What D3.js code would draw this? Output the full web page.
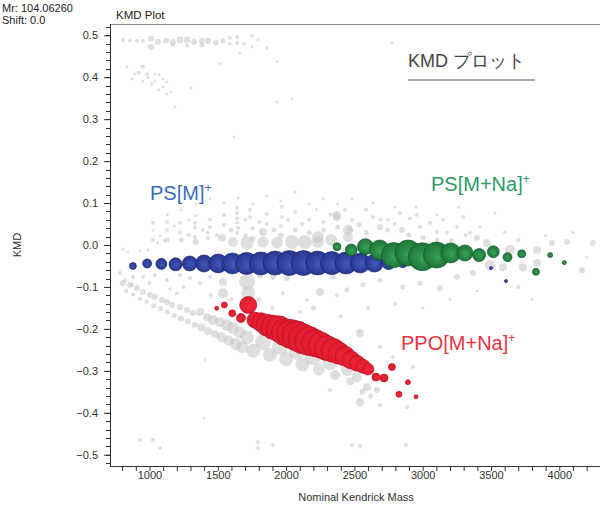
<!DOCTYPE html>
<html>
<head>
<meta charset="utf-8">
<script src="https://cdn.jsdelivr.net/npm/d3@7"></script>
<style>
  body { margin: 0; background: #fff; }
  svg { display: block; }
  text { font-family: "Liberation Sans", Arial, Helvetica, sans-serif; }
</style>
</head>
<body>
<svg id="chart" width="600" height="506"></svg>
<script>
// ---- data: [nominal Kendrick mass, KMD, relative intensity] ----
const psM = [
  [879,-0.050,7],[983,-0.044,12],[1087,-0.045,18],[1191,-0.046,25],[1295,-0.044,33],
  [1399,-0.044,43],[1503,-0.044,53],[1607,-0.044,65],[1711,-0.044,72],[1815,-0.044,78],
  [1919,-0.043,85],[2023,-0.043,92],[2127,-0.043,92],[2231,-0.043,85],[2335,-0.043,78],
  [2439,-0.043,72],[2543,-0.043,59],[2647,-0.043,48],[2751,-0.042,29],[2855,-0.042,15],
  [3500,-0.055,1.5],[3610,-0.086,1.5]
];
const psMNa = [
  [2373,-0.004,9.4],[2477,-0.012,21],[2581,-0.004,38],[2685,-0.012,59],[2789,-0.024,92],
  [2893,-0.019,100],[2997,-0.028,116],[3101,-0.024,100],[3205,-0.019,59],[3309,-0.019,38],
  [3413,-0.024,25],[3517,-0.016,21],[3621,-0.029,12],[3725,-0.021,9.4],[3829,-0.064,7.2],
  [3933,-0.024,3.7],[4037,-0.042,2.4]
];
const ppoMNa = [
  [1492,-0.151,2.4],[1548,-0.143,5.3],[1606,-0.163,7.2],[1670,-0.174,12],[1723,-0.143,43],
  [1772,-0.179,38],[1816,-0.184,53],[1860,-0.191,71],[1904,-0.196,85],[1948,-0.200,100],
  [1992,-0.208,108],[2036,-0.212,124],[2080,-0.217,133],[2124,-0.224,133],[2168,-0.229,124],
  [2211,-0.234,108],[2255,-0.239,100],[2299,-0.246,92],[2343,-0.251,85],[2387,-0.258,71],
  [2431,-0.265,59],[2475,-0.274,48],[2519,-0.282,38],[2563,-0.289,29],[2599,-0.296,21],
  [2658,-0.315,9.4],[2717,-0.317,9.4],[2775,-0.291,7.2],[2826,-0.356,5.3],[2892,-0.327,3.7],
  [2951,-0.362,2.4]
];
// unassigned peaks, by region of the plot
const othersTop = [
  [806,0.489,2.4],[857,0.487,2.4],[908,0.487,2.4],[952,0.487,2.4],[1011,0.492,5.3],[1011,0.473,5.3],
  [1062,0.484,5.3],[1121,0.487,5.3],[1172,0.484,5.3],[1172,0.477,2.4],[1223,0.489,7],[1275,0.489,7],
  [1275,0.475,2.4],[1326,0.484,5.3],[1384,0.487,5.3],[1384,0.477,3.7],[1428,0.487,5.3],[1487,0.482,5.3],
  [1538,0.487,3.7],[1589,0.494,2.4],[1589,0.480,2.4],[1641,0.496,2.4],[1641,0.482,2.4],[1692,0.480,2.4],
  [1750,0.499,2.4],[1750,0.473,1.3],[1794,0.489,1.3],[1860,0.470,1.3],[1662,0.458,1.3],[1516,0.432,1.3],
  [1933,0.437,1.3],[2775,0.482,1.3],
  [835,0.425,1.3],[952,0.425,2.4],[894,0.408,1.3],[923,0.411,2.4],[982,0.408,2.4],[1040,0.408,1.3],
  [1070,0.406,1.3],[872,0.396,1.3],[952,0.391,1.3],[989,0.399,1.3],[1040,0.391,1.3],[1099,0.396,1.3],
  [1128,0.389,1.3],[1018,0.384,1.3],[1099,0.377,1.3],[1070,0.370,1.3],[1128,0.360,1.3],[1157,0.365,1.3],
  [1187,0.329,1.3],[1304,0.375,1],[1933,0.341,1.3],[2043,0.348,1.3],[1619,0.258,1]
];
const othersBand = [
  [1026,0.053,2.4],[1128,0.055,2.4],[1128,0.036,2.4],[1223,0.053,2.4],[1223,0.029,2.4],[1333,0.053,2.4],
  [1333,0.041,2.4],[1333,0.019,2.4],[1428,0.029,2.4],[1428,0.017,2.4],[1531,0.017,9.4],[1641,0.088,2.4],
  [1641,0.076,2.4],[1641,0.064,2.4],[1641,0.053,2.4],[1641,0.029,2.4],[1611,0.007,15],[1736,0.084,2.4],
  [1736,0.067,2.4],[1831,0.031,9.4],[1831,0.007,18],[1933,0.005,21],[1970,0.091,2.4],[1970,0.067,2.4],
  [2043,0.007,29],[2138,0.007,29],[2233,0.019,21],[2233,0.007,21],[2372,0.067,9.4],[2453,0.036,15],
  [2453,0.019,15],[806,-0.010,1.3],[843,-0.017,1.3],[930,-0.014,1.3],[990,-0.012,1.3],[1060,0.005,1.3],
  [1110,0.010,1.3],[1714,0.005,25],[2330,0.012,21],
  [1026,0.034,1.3],[1026,0.012,2.4],[1078,0.022,1.3],[1130,0.072,1.3],[1130,0.012,3.7],[1182,0.045,1.3],
  [1234,0.084,1.3],[1234,0.012,3.7],[1286,0.060,1.3],[1286,0.024,2.4],[1338,0.098,1.3],[1338,0.070,1.3],
  [1338,0.008,5.3],[1390,0.036,2.4],[1442,0.110,1.3],[1442,0.060,2.4],[1442,0.043,2.4],[1494,0.024,2.4],
  [1546,0.100,1.3],[1546,0.072,2.4],[1546,0.048,2.4],[1598,0.036,3.7],[1650,0.112,1.3],[1650,0.041,2.4],
  [1702,0.060,2.4],[1702,0.022,3.7],[1754,0.098,1.3],[1754,0.040,2.4],[1754,0.015,5.3],[1806,0.055,2.4],
  [1858,0.116,1.3],[1858,0.074,2.4],[1858,0.050,2.4],[1910,0.036,3.7],[1962,0.105,1.3],[1962,0.045,2.4],
  [1962,0.022,5.3],[2014,0.060,2.4],[2066,0.125,1.3],[2066,0.078,2.4],[2066,0.036,3.7],[2118,0.050,2.4],
  [2170,0.098,1.3],[2170,0.060,2.4],[2170,0.030,3.7],[2222,0.084,1.3],[2274,0.110,1.3],[2274,0.055,2.4],
  [2274,0.036,3.7],[2326,0.072,2.4],[2378,0.098,1.3],[2378,0.043,3.7],[2430,0.084,2.4],[2482,0.060,2.4],
  [2482,0.110,1.3],[2534,0.048,3.7],[2586,0.084,2.4],[2586,0.030,3.7],[2638,0.100,1.3],[2690,0.060,2.4],
  [2742,0.036,3.7],[2794,0.090,1.3],[2794,0.050,2.4],[2898,0.024,3.7],[2950,0.090,1.3],[3002,0.018,3.7],
  [3106,0.072,1.3],[3106,0.012,3.7],[3210,0.010,3.7],[3262,0.090,1.3],[3314,0.024,2.4],[3418,0.043,1.3],
  [3600,0.030,1.3],[3700,0.012,2.4],[3900,0.022,1.3],[4100,0.030,1.3],[4200,-0.030,1.3],
  [2372,0.072,9.4],[2467,0.036,5.3],[2636,0.067,2.4],[2687,0.043,5.3],[2746,0.060,2.4],[2833,0.076,2.4],
  [2848,0.036,5.3],[2906,0.064,2.4],[2958,0.072,2.4],[2980,0.043,2.4],[3053,0.053,2.4],[3104,0.031,2.4],
  [3148,0.060,2.4],[3178,0.029,2.4],[3251,0.043,2.4],[3295,0.067,2.4],[3346,0.029,2.4],[3397,0.017,5.3],
  [3470,0.005,9.4],[3529,0.076,1.3],[3639,-0.012,15],[3734,-0.053,9.4],[3837,-0.012,9.4],[3837,-0.043,9.4],
  [3946,0.005,5.3],[4056,0.007,5.3],[4166,-0.060,5.3],[4246,0.005,5.3],[3492,-0.048,15],[3588,-0.053,9.4],
  [3368,-0.067,5.3],[3251,-0.076,5.3],[3126,-0.103,5.3],[2980,-0.091,3.7],[2855,-0.100,3.7],[2687,-0.084,3.7],
  [2563,-0.095,3.7],[2446,-0.107,3.7],[2372,-0.119,2.4]
];
const othersLow = [
  [784,-0.067,2.4],[821,-0.084,2.4],[872,-0.095,2.4],[952,-0.076,2.4],[1040,-0.072,2.4],[1128,-0.084,2.4],
  [1223,-0.072,2.4],[1296,-0.079,2.4],[1370,-0.091,2.4],[1443,-0.076,2.4],[1538,-0.088,9.4],[1714,-0.088,38],
  [1809,-0.072,5.3],[1904,-0.076,5.3],[2006,-0.079,5.3],[2124,-0.067,5.3],[2226,-0.064,5.3],[2343,-0.076,5.3],
  [806,-0.091,5.3],[857,-0.095,5.3],[908,-0.103,5.3],[952,-0.112,5.3],[1004,-0.119,5.3],[1040,-0.124,5.3],
  [1092,-0.131,5.3],[1128,-0.136,5.3],[1165,-0.143,5.3],[1223,-0.148,5.3],[1275,-0.155,5.3],[1318,-0.162,5.3],
  [1370,-0.160,9.4],[1421,-0.172,9.4],[1465,-0.179,15],[1516,-0.184,15],[1567,-0.191,21],[1611,-0.198,21],
  [1662,-0.208,21],[1714,-0.220,29],[1831,-0.231,38],[1955,-0.243,38],[2080,-0.255,38],[2197,-0.267,38],
  [2321,-0.282,29],[2446,-0.298,21],[2519,-0.315,15],[2592,-0.339,9.4],[2665,-0.346,5.3],[1723,-0.115,29],
  [1538,-0.115,15],[1201,-0.115,2.4],[879,-0.076,2.4],[1406,-0.274,1.3],[2541,-0.210,9.4],[2248,-0.112,9.4],
  [1977,-0.115,2.4],[2153,-0.131,2.4],[2687,-0.243,2.4],[2782,-0.267,2.4],[2928,-0.291,2.4],[2541,-0.375,9.4],
  [2321,-0.346,2.4],[2687,-0.382,2.4],[2885,-0.387,2.4],
  [830,-0.110,2.4],[880,-0.118,2.4],[930,-0.128,2.4],[980,-0.135,2.4],[1030,-0.145,3.7],[1080,-0.152,3.7],
  [1130,-0.160,3.7],[1180,-0.168,3.7],[1230,-0.175,5.3],[1280,-0.182,5.3],[1330,-0.190,5.3],[1380,-0.196,9.4],
  [1430,-0.205,9.4],[1480,-0.212,9.4],[1530,-0.220,15],[1580,-0.228,15],[1630,-0.236,21],[1680,-0.244,21],
  [1760,-0.252,29],[1880,-0.262,29],[2000,-0.272,29],[2120,-0.285,29],[2240,-0.297,21],[2360,-0.310,15],
  [2470,-0.325,9.4],[2560,-0.350,5.3],[2620,-0.360,3.7],
  [1000,-0.090,2.4],[1150,-0.105,1.3],[1250,-0.100,2.4],[1450,-0.120,2.4],[1600,-0.130,2.4],[1800,-0.130,3.7],
  [1900,-0.150,2.4],[2100,-0.160,2.4],[2200,-0.150,3.7],[2400,-0.170,2.4],[2600,-0.150,2.4],[2800,-0.140,2.4],
  [3000,-0.150,1.3],[3200,-0.130,1.3],[3400,-0.110,1.3],[3700,-0.100,2.4],[3800,-0.130,1.3],
  [930,-0.465,2.4],[1026,-0.465,2.4],[1077,-0.484,2.4],[1794,-0.470,2.4],[1794,-0.484,2.4],[1904,-0.477,2.4],
  [2482,-0.477,2.4],[2541,-0.480,2.4],[2877,-0.477,2.4],[1399,-0.413,1.3]
];
const xLabelTicks = [1000, 1500, 2000, 2500, 3000, 3500, 4000];
const yLabelTicks = [-0.5, -0.4, -0.3, -0.2, -0.1, 0.0, 0.1, 0.2, 0.3, 0.4, 0.5];

// ---- layout ----
const svg = d3.select("#chart");
const x = d3.scaleLinear().domain([711, 4298]).range([110, 600]);
const y = d3.scaleLinear().domain([-0.527, 0.527]).range([466, 24]);
const r = d3.scaleSqrt().domain([0, 100]).range([0, 13]);

const defs = svg.append("defs");
function ball(id, inner, outer) {
  const g = defs.append("radialGradient").attr("id", id)
    .attr("cx", "50%").attr("cy", "50%").attr("r", "50%")
    .attr("fx", "55%").attr("fy", "58%");
  g.append("stop").attr("offset", "0%").attr("stop-color", inner);
  g.append("stop").attr("offset", "100%").attr("stop-color", outer);
}
ball("gBlue", "#4558ba", "#27368f");
ball("gGreen", "#37a257", "#1d7637");
ball("gRed", "#f3283b", "#e01a2e");
defs.append("filter").attr("id", "soft")
  .append("feGaussianBlur").attr("stdDeviation", 0.7);

// header texts
svg.append("text").attr("x", 2).attr("y", 12).attr("font-size", 11).attr("fill", "#222")
  .text("Mr: 104.06260");
svg.append("text").attr("x", 2).attr("y", 24).attr("font-size", 11).attr("fill", "#222")
  .text("Shift: 0.0");
svg.append("text").attr("x", 116).attr("y", 19).attr("font-size", 11.5).attr("fill", "#222")
  .text("KMD Plot");

// plot frame top line
svg.append("line").attr("x1", 110).attr("x2", 600).attr("y1", 24.5).attr("y2", 24.5)
  .attr("stroke", "#8a8a8a").attr("stroke-width", 1);

// bubbles
const plot = svg.append("g");
plot.append("g").attr("filter", "url(#soft)")
  .selectAll("circle").data(othersTop.concat(othersBand, othersLow)).join("circle")
  .attr("cx", d => x(d[0])).attr("cy", d => y(d[1])).attr("r", d => r(d[2]))
  .attr("fill", "#c4c4c4").attr("fill-opacity", 0.55);

function series(data, fill, stroke) {
  plot.append("g").selectAll("circle").data(data).join("circle")
    .attr("cx", d => x(d[0])).attr("cy", d => y(d[1])).attr("r", d => r(d[2]))
    .attr("fill", fill).attr("stroke", stroke).attr("stroke-width", 0.8)
    .attr("stroke-opacity", 0.8);
}
series(psM, "url(#gBlue)", "#1b2675");
series(psMNa, "url(#gGreen)", "#12552a");
series(ppoMNa, "url(#gRed)", "#b5101f");

// axes
const xAxis = d3.axisBottom(x).tickValues(d3.range(800, 4300, 100))
  .tickSize(5).tickFormat(d => xLabelTicks.includes(d) ? d3.format("d")(d) : "");
const gx = svg.append("g").attr("transform", "translate(0,466)").call(xAxis);
gx.select(".domain").attr("d", "M110.5,0.5H600").attr("stroke", "#333");
gx.selectAll(".tick line").attr("stroke", "#333");
gx.selectAll(".tick text").attr("font-size", 11).attr("fill", "#333")
  .attr("font-family", "Liberation Sans, Arial, sans-serif").attr("y", 5);

const yMinor = d3.range(-0.52, 0.521, 0.02).map(v => Math.round(v * 100) / 100);
const gy = svg.append("g").attr("transform", "translate(110,0)");
gy.append("line").attr("x1", 0.5).attr("x2", 0.5).attr("y1", 24).attr("y2", 466.5).attr("stroke", "#333");
gy.selectAll(".minor").data(yMinor).join("line").attr("class", "minor")
  .attr("x1", -4).attr("x2", 0).attr("y1", d => Math.round(y(d)) + 0.5).attr("y2", d => Math.round(y(d)) + 0.5)
  .attr("stroke", "#333");
gy.call(d3.axisLeft(y).tickValues(yLabelTicks).tickSize(6).tickFormat(d3.format(".1f")));
gy.select(".domain").remove();
gy.selectAll(".tick line").attr("stroke", "#333");
gy.selectAll(".tick text").attr("font-size", 11).attr("fill", "#333")
  .attr("font-family", "Liberation Sans, Arial, sans-serif").attr("x", -12);

// axis titles
svg.append("text").attr("x", 356).attr("y", 501).attr("text-anchor", "middle")
  .attr("font-size", 11).attr("fill", "#333").text("Nominal Kendrick Mass");
svg.append("text").attr("transform", "translate(21,245) rotate(-90)").attr("text-anchor", "middle")
  .attr("font-size", 11).attr("fill", "#333").text("KMD");

// title annotation
svg.append("text").attr("x", 408).attr("y", 67).attr("font-size", 18).attr("fill", "#444")
  .attr("font-family", "'Noto Sans CJK JP', 'Liberation Sans', sans-serif").attr("font-weight", 300)
  .text("KMD プロット");
svg.append("line").attr("x1", 408).attr("x2", 535).attr("y1", 80).attr("y2", 80)
  .attr("stroke", "#8c8c8c").attr("stroke-width", 1.5);

// series labels
function label(xp, yp, main, color) {
  const t = svg.append("text").attr("x", xp).attr("y", yp).attr("font-size", 20).attr("fill", color);
  t.append("tspan").text(main);
  t.append("tspan").attr("dy", -8).attr("font-size", 12).text("+");
}
label(150, 200, "PS[M]", "#3a6cbf");
label(431, 191, "PS[M+Na]", "#2f9a6a");
label(401, 350, "PPO[M+Na]", "#e8343f");
</script>
</body>
</html>
